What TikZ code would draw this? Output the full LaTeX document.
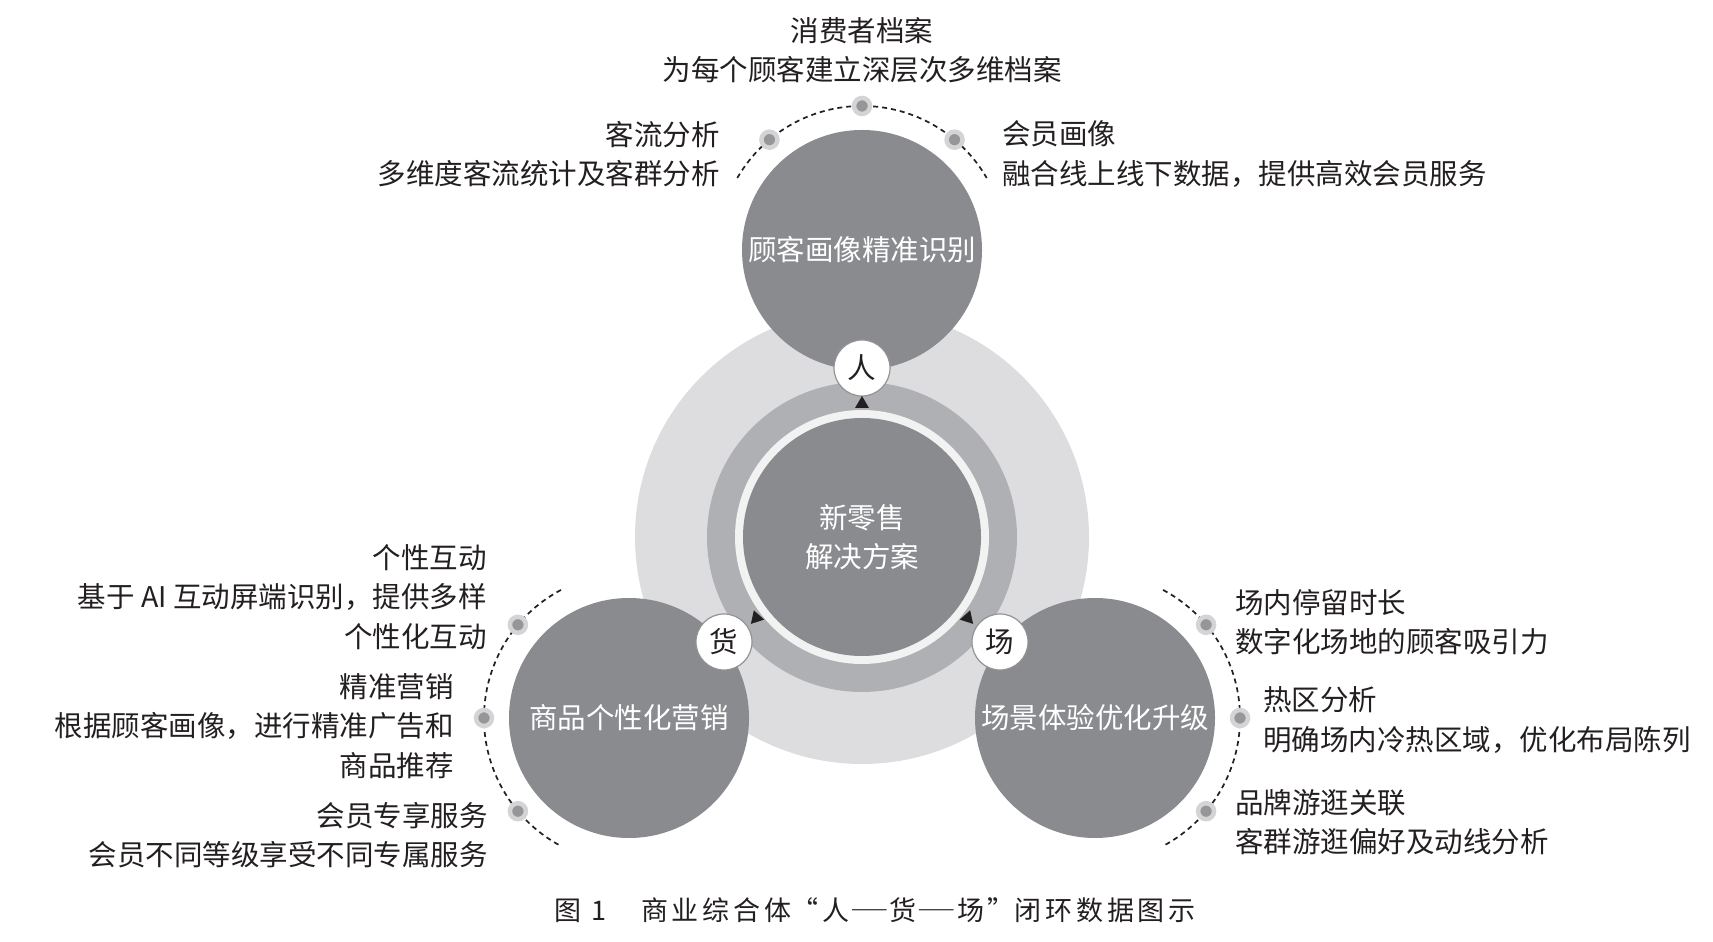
\documentclass[tikz,border=0pt]{standalone}
\usepackage{fontspec}
\setmainfont{Noto Sans CJK SC}
\newfontfamily\capfont[LetterSpace=14]{Noto Sans CJK SC}
\newcommand{\bodyfont}{\fontsize{28.5}{39.5}\selectfont}
\newcommand{\longdash}{\scalebox{1.5}[1]{—}}

\definecolor{darkdisc}{RGB}{138,139,143}
\definecolor{midring}{RGB}{175,176,179}
\definecolor{lightdisc}{RGB}{221,221,223}
\definecolor{paleline}{RGB}{242,242,242}
\definecolor{inkblack}{RGB}{35,31,32}
\definecolor{dotgray}{RGB}{150,150,153}
\definecolor{halogray}{RGB}{212,212,214}

\tikzset{
  disc/.style={circle,fill=darkdisc,minimum size=240pt,inner sep=0pt,text=white,font=\bodyfont},
  tag/.style={circle,fill=white,draw=gray!85,line width=1.2pt,minimum size=56pt,inner sep=0pt,text=inkblack,font=\bodyfont},
  note/.style={inner sep=0pt,text=inkblack,font=\bodyfont},
  linkarc/.style={inkblack,line width=1.7pt,dash pattern=on 5pt off 4pt},
  pin/.style={circle,fill=dotgray,draw=halogray,line width=4.5pt,minimum size=16pt,inner sep=0pt},
}

\begin{document}
\begin{tikzpicture}[x=1pt,y=1pt]
    \useasboundingbox (0,0) rectangle (1713,942);
    % centre rings
    \fill[lightdisc] (862,405) circle (227);
    \fill[midring] (862,405) circle (155);
    \fill[paleline] (862,405) circle (127);
    \node[disc,minimum size=238pt,align=center] (xinlingshou) at (862,405) {新零售\\解决方案};
    % three outer discs
    \node[disc] (guke) at (862,692) {顾客画像精准识别};
    \node[disc] (shangpin) at (629,224) {商品个性化营销};
    \node[disc] (changjing) at (1095,224) {场景体验优化升级};
    \node[tag] (ren) at (862,574) {人};
    \node[tag] (huo) at (724,300) {货};
    \node[tag] (chang) at (1000,300) {场};
    % arrow tips on the ring
    \foreach \px/\py/\rot in {862/539/0, 756/325/18, 968/325/-18}
        \fill[inkblack,shift={(\px,\py)},rotate=\rot] (0,7) -- (-7,-5) -- (7,-5) -- cycle;
    % dashed arcs with dots
    \draw[linkarc] (guke.center) ++(150:144) arc[start angle=150,end angle=30,radius=144];
    \draw[linkarc] (shangpin.center) ++(118:145) arc[start angle=118,end angle=242,radius=145];
    \draw[linkarc] (changjing.center) ++(62:145) arc[start angle=62,end angle=-62,radius=145];
    \foreach \a in {50,90,130}
        \path (guke.center) ++(\a:144) node[pin] (gk\a) {};
    \foreach \a in {140,180,220}
        \path (shangpin.center) ++(\a:145) node[pin] (sp\a) {};
    \foreach \a in {40,0,-40}
        \path (changjing.center) ++(\a:145) node[pin] (cj\a) {};
    % texts round the discs
    \node[note,align=center] (dangan) at (862,892) {消费者档案\\为每个顾客建立深层次多维档案};
    \node[note,align=right,anchor=east] (keliu) at (720,788) {客流分析\\多维度客流统计及客群分析};
    \node[note,align=left,anchor=west] (huiyuan) at (1002,788) {会员画像\\融合线上线下数据，提供高效会员服务};
    \node[note,align=right,anchor=east] (hudong) at (487,345) {个性互动\\基于 AI 互动屏端识别，提供多样\\个性化互动};
    \node[note,align=right,anchor=east] (yingxiao) at (454,216) {精准营销\\根据顾客画像，进行精准广告和\\商品推荐};
    \node[note,align=right,anchor=east] (zhuanxiang) at (488,107) {会员专享服务\\会员不同等级享受不同专属服务};
    \node[note,align=left,anchor=west] (tingliu) at (1235,320) {场内停留时长\\数字化场地的顾客吸引力};
    \node[note,align=left,anchor=west] (requ) at (1263,222) {热区分析\\明确场内冷热区域，优化布局陈列};
    \node[note,align=left,anchor=west] (youguang) at (1235,120) {品牌游逛关联\\客群游逛偏好及动线分析};
    % caption
    \node[inner sep=0pt,text=inkblack,font={\capfont\fontsize{27}{30}\selectfont}] (tuzhu) at (875,32)
        {图 1\hspace{1.3em}商业综合体{\addfontfeature{CharacterWidth=Full}“人\longdash 货\longdash 场”}闭环数据图示};
\end{tikzpicture}
\end{document}
